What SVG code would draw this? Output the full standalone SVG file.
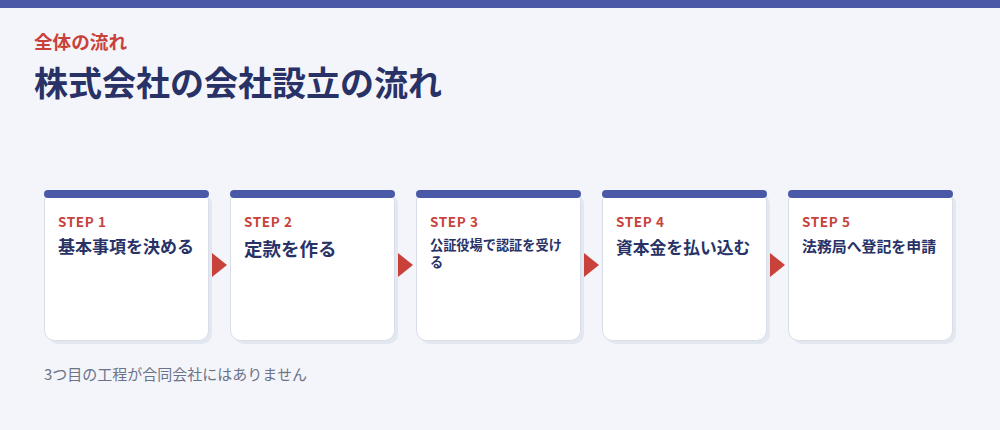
<svg xmlns="http://www.w3.org/2000/svg" width="1000" height="430" viewBox="0 0 1000 430">
<defs>
<style>
text{font-family:"Noto Sans CJK JP","Noto Sans",sans-serif;}
.bg{fill:#f4f5fa;}
.topbar{fill:#4a58a8;}
.eyebrow{fill:#c8423b;font-size:18.6px;font-weight:700;}
.title{fill:#283266;font-size:34px;font-weight:700;}
.shadow{fill:#e2e7f0;}
.card{fill:#ffffff;stroke:#d8dee9;stroke-width:1;}
.cardbar{fill:#4a58a8;}
.step{fill:#c8423b;font-size:13.5px;font-weight:700;letter-spacing:0.6px;}
.label{fill:#283266;font-weight:700;}
.arrow{fill:#c8423b;}
.note{fill:#6b7388;font-size:15px;}
</style>
</defs>
<rect class="bg" x="0" y="0" width="1000" height="430"/>
<rect class="topbar" x="0" y="0" width="1000" height="8"/>
<g id="header">
<text class="eyebrow" x="34" y="49">全体の流れ</text>
<text class="title" x="34" y="96">株式会社の会社設立の流れ</text>
</g>
<g id="step1">
<rect class="shadow" x="48" y="194" width="164" height="150" rx="10"/>
<rect class="card" x="44.5" y="190.5" width="164" height="150" rx="10"/>
<rect class="cardbar" x="44" y="190" width="165" height="8" rx="4"/>
<text class="step" x="58" y="227">STEP 1</text>
<text class="label" x="58" y="253" font-size="17">基本事項を決める</text>
</g>
<g id="step2">
<rect class="shadow" x="234" y="194" width="164" height="150" rx="10"/>
<rect class="card" x="230.5" y="190.5" width="164" height="150" rx="10"/>
<rect class="cardbar" x="230" y="190" width="165" height="8" rx="4"/>
<text class="step" x="244" y="227">STEP 2</text>
<text class="label" x="244" y="256" font-size="18.5">定款を作る</text>
</g>
<g id="step3">
<rect class="shadow" x="420" y="194" width="164" height="150" rx="10"/>
<rect class="card" x="416.5" y="190.5" width="164" height="150" rx="10"/>
<rect class="cardbar" x="416" y="190" width="165" height="8" rx="4"/>
<text class="step" x="430" y="227">STEP 3</text>
<text class="label" x="430" y="250" font-size="13.2">公証役場で認証を受け</text>
<text class="label" x="430" y="267" font-size="13.2">る</text>
</g>
<g id="step4">
<rect class="shadow" x="606" y="194" width="164" height="150" rx="10"/>
<rect class="card" x="602.5" y="190.5" width="164" height="150" rx="10"/>
<rect class="cardbar" x="602" y="190" width="165" height="8" rx="4"/>
<text class="step" x="616" y="227">STEP 4</text>
<text class="label" x="616" y="254" font-size="16.8">資本金を払い込む</text>
</g>
<g id="step5">
<rect class="shadow" x="792" y="194" width="164" height="150" rx="10"/>
<rect class="card" x="788.5" y="190.5" width="164" height="150" rx="10"/>
<rect class="cardbar" x="788" y="190" width="165" height="8" rx="4"/>
<text class="step" x="802" y="227">STEP 5</text>
<text class="label" x="802" y="252" font-size="14.9">法務局へ登記を申請</text>
</g>
<g id="connectors">
<polygon class="arrow" points="212,253 227,265 212,277"/>
<polygon class="arrow" points="398,253 413,265 398,277"/>
<polygon class="arrow" points="584,253 599,265 584,277"/>
<polygon class="arrow" points="770,253 785,265 770,277"/>
</g>
<g id="footnote">
<text class="note" x="44" y="380">3つ目の工程が合同会社にはありません</text>
</g>
</svg>
